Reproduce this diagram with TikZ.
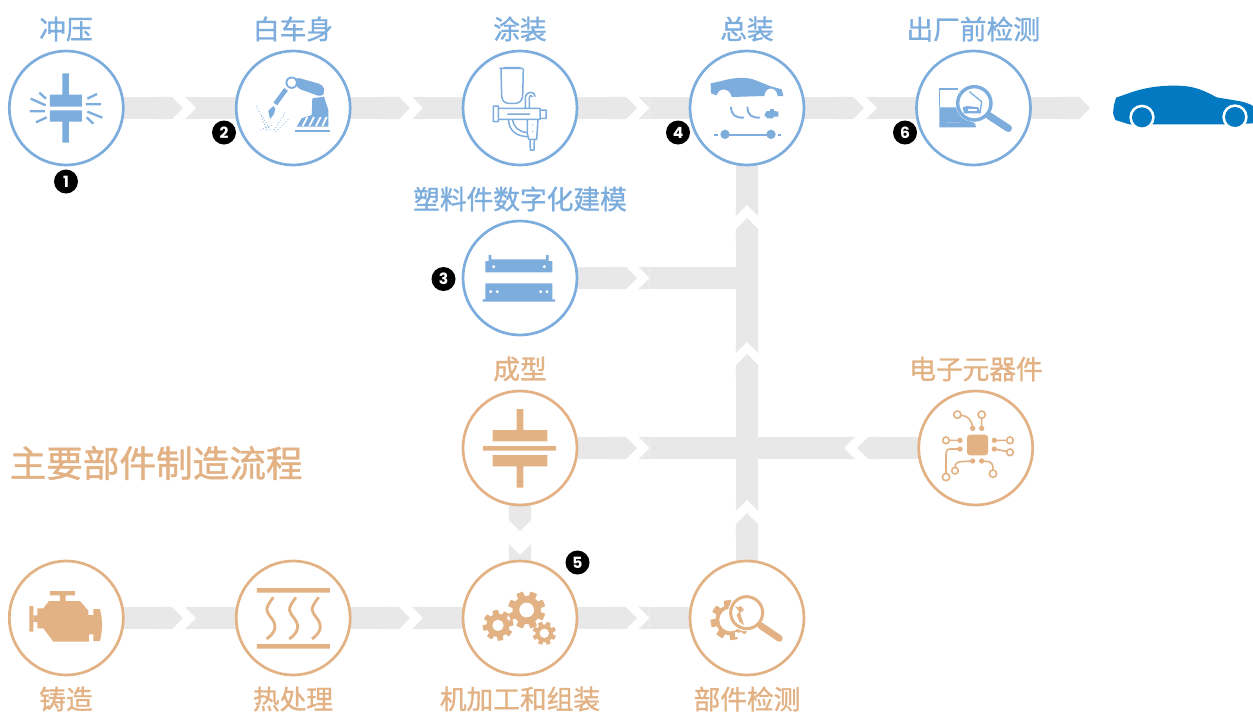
\documentclass[tikz,border=0pt]{standalone}
\usepackage{fontspec}
\setmainfont{Noto Sans CJK SC}[FakeBold=1.2]
\newfontfamily\badgefont{Poppins}
\usetikzlibrary{arrows.meta,backgrounds}
\definecolor{bl}{HTML}{7DADDD}
\definecolor{og}{HTML}{E2B285}
\definecolor{band}{HTML}{E8E8E8}
\definecolor{carblue}{HTML}{0279C1}
\pgfdeclarearrow{
  name=Notch,
  setup code={\pgfarrowssettipend{0pt}\pgfarrowssetlineend{-11pt}\pgfarrowssetbackend{-11.2pt}},
  drawing code={
    \pgfpathmoveto{\pgfqpoint{0pt}{11.2pt}}
    \pgfpathlineto{\pgfqpoint{-11.2pt}{0pt}}
    \pgfpathlineto{\pgfqpoint{0pt}{-11.2pt}}
    \pgfpathlineto{\pgfqpoint{-11.2pt}{-11.2pt}}
    \pgfpathlineto{\pgfqpoint{-11.2pt}{11.2pt}}
    \pgfpathclose
    \pgfusepathqfill
  }
}
\tikzset{
  stepb/.style={circle,draw=bl,line width=2.7pt,fill=white,minimum size=114pt,inner sep=0pt},
  stepo/.style={circle,draw=og,line width=2.7pt,fill=white,minimum size=114pt,inner sep=0pt},
  labb/.style={text=bl,font=\fontsize{26.7}{30}\selectfont,inner sep=0pt},
  labo/.style={text=og,font=\fontsize{26.7}{30}\selectfont,inner sep=0pt},
  badge/.style={circle,fill=black,text=white,minimum size=24pt,inner sep=0pt,font=\badgefont\bfseries\fontsize{15.5}{15.5}\selectfont},
  flowtip/.style={draw=band,line width=22.4pt,-{Triangle Cap[]}},
  flownotch/.style={draw=band,line width=22.4pt,{Notch[]}-},
  flowboth/.style={draw=band,line width=22.4pt,{Notch[]}-{Notch[]}},
  flowmid/.style={draw=band,line width=22.4pt,{Notch[]}-{Triangle Cap[]}},
  zoomed/.style={x=0.33333pt,y=-0.33333pt},
}
\newcommand\gearshape[6]{% x y R hole offset colour
  \fill[#6] (#1,#2) circle ({0.76*#3});
  \foreach \a in {0,45,...,315}
    \fill[#6,shift={(#1,#2)},rotate={\a+#5},rounded corners=0.6pt] ({-0.19*#3},0) rectangle ({0.19*#3},#3);
  \fill[white] (#1,#2) circle (#4);
}
\begin{document}
\begin{tikzpicture}[x=1pt,y=-1pt]
\useasboundingbox (0,0) rectangle (1253,713);
% step nodes
\node[stepb] (ya) at (66.3,108) {};
\node[stepb] (bai) at (293.2,108) {};
\node[stepb] (tu) at (520,108) {};
\node[stepb] (zong) at (747,108) {};
\node[stepb] (chu) at (973.5,108) {};
\node[stepb] (su) at (520,278) {};
\node[stepo] (cheng) at (520,448) {};
\node[stepo] (dian) at (975.7,448) {};
\node[stepo] (zhu) at (66.3,618) {};
\node[stepo] (re) at (293.2,618) {};
\node[stepo] (ji) at (520,618) {};
\node[stepo] (bu) at (747,618) {};
% labels
\node[labb] (l1) at (66,29) {冲压};
\node[labb] (l2) at (293,29) {白车身};
\node[labb] (l3) at (520,29) {涂装};
\node[labb] (l4) at (747,29) {总装};
\node[labb] (l5) at (973.3,29) {出厂前检测};
\node[labb] (l6) at (520,199) {塑料件数字化建模};
\node[labo] (l7) at (520,369) {成型};
\node[labo] (l8) at (976,369) {电子元器件};
\node[labo] (l9) at (66,699) {铸造};
\node[labo] (l10) at (293,699) {热处理};
\node[labo] (l11) at (520,699) {机加工和组装};
\node[labo] (l12) at (747,699) {部件检测};
\node[text=og,font=\fontsize{36.6}{40}\selectfont,inner sep=0pt,anchor=west] (title) at (9.5,463) {主要部件制造流程};
% badges
\node[badge] (b1) at (66,181.5) {1};
\node[badge] (b2) at (224,132.5) {2};
\node[badge] (b3) at (443.5,279) {3};
\node[badge] (b4) at (678,132.5) {4};
\node[badge] (b5) at (577.5,562.5) {5};
\node[badge] (b6) at (905,132.5) {6};
% connector ends
\coordinate (t1) at (183,108); \coordinate (n1) at (185,108);
\coordinate (t2) at (410,108); \coordinate (n2) at (412,108);
\coordinate (t3) at (637,108); \coordinate (n3) at (638.5,108);
\coordinate (t4) at (864,108); \coordinate (n4) at (866,108);
\coordinate (t5) at (1090,108);
\coordinate (t6) at (637,278); \coordinate (n6) at (638.5,278); \coordinate (j6) at (747,278);
\coordinate (t7) at (637,448); \coordinate (n7) at (638.5,448); \coordinate (n7r) at (855,448);
\coordinate (t8) at (857,448);
\coordinate (t9) at (520,531); \coordinate (n9) at (520,544);
\coordinate (t11) at (183,618); \coordinate (n11) at (185,618);
\coordinate (t12) at (410,618); \coordinate (n12) at (412,618);
\coordinate (t13) at (637,618); \coordinate (n13) at (638.5,618);
\coordinate (v1) at (747,513); \coordinate (v2) at (747,511);
\coordinate (v3) at (747,354); \coordinate (v4) at (747,353);
\coordinate (v5) at (747,218); \coordinate (v6) at (747,216);
\begin{scope}[on background layer]
\draw[flowtip] (ya.center) -- (t1);
\draw[flownotch] (n1) -- (bai.center);
\draw[flowtip] (bai.center) -- (t2);
\draw[flownotch] (n2) -- (tu.center);
\draw[flowtip] (tu.center) -- (t3);
\draw[flownotch] (n3) -- (zong.center);
\draw[flowtip] (zong.center) -- (t4);
\draw[flownotch] (n4) -- (chu.center);
\draw[flowtip] (chu.center) -- (t5);
\draw[flowtip] (su.center) -- (t6);
\draw[flownotch] (n6) -- (j6);
\draw[flowtip] (cheng.center) -- (t7);
\draw[flowboth] (n7) -- (n7r);
\draw[flowtip] (dian.center) -- (t8);
\draw[flowtip] (cheng.center) -- (t9);
\draw[flownotch] (n9) -- (ji.center);
\draw[flowtip] (zhu.center) -- (t11);
\draw[flownotch] (n11) -- (re.center);
\draw[flowtip] (re.center) -- (t12);
\draw[flownotch] (n12) -- (ji.center);
\draw[flowtip] (ji.center) -- (t13);
\draw[flownotch] (n13) -- (bu.center);
\draw[flowtip] (bu.center) -- (v1);
\draw[flowmid] (v2) -- (v3);
\draw[flowmid] (v4) -- (v5);
\draw[flownotch] (v6) -- (zong.center);
\end{scope}
% --- icons, top row (zoom coordinates)
\begin{scope}[zoomed]
% press
\fill[bl] (187,220) rectangle (207,284) (150,284) rectangle (246,320) (150,331) rectangle (246,365) (187,365) rectangle (207,428);
\draw[bl,line width=2.3pt] (92,296)--(137,316) (118,278)--(138,296) (90,334)--(135,334) (108,367)--(140,352)
 (262,296)--(291,282) (258,313)--(303,313) (262,335)--(307,353) (260,352)--(280,371);
% robot
\fill[bl] (885,390) rectangle (990,396);
\fill[bl] (937,295) -- (972,290) -- (985,330) -- (985,380) -- (890,380) -- (905,355) -- (935,345) -- cycle;
\draw[white,line width=1.8pt] (908,378)--(922,351) (928,378)--(942,351) (948,378)--(962,351) (967,378)--(980,351);
\fill[bl,rounded corners=4pt] (885,231) -- (968,254) -- (975,275) -- (965,291) -- (890,264) -- cycle;
\fill[bl] (875,248) circle (18.5);
\fill[white] (875,248) circle (13);
\draw[bl,line width=4.6pt] (858,268)--(826,312);
\fill[bl] (820,318)--(805,332)--(810,357)--(822,342)--(826,326)--cycle;
\draw[bl,line width=.8pt,dotted] (770,318)--(803,395) (785,345)--(812,392) (855,338)--(820,395) (865,358)--(828,395) (782,390)--(815,375);
\end{scope}
\begin{scope}[shift={(420,0)},zoomed]
% spray gun
\draw[bl,line width=1.5pt,line join=round]
  (238,205)--(310,205) (243,207)--(245,290)..controls (247,303) and (255,310) .. (265,310)--(288,310)..controls (298,310) and (306,300) .. (308,290)--(310,207)
  (250,203)--(302,203)
  (235,325)--(360,325)--(360,358)--(235,358)--cycle
  (220,318)--(235,318)--(235,365)--(220,365)--cycle
  (360,330)--(378,330)--(378,355)--(360,355)
  (262,342)--(330,342)
  (316,325)--(316,293)..controls (318,272) and (345,272) .. (346,290)
  (328,325)--(328,295)..controls (328,285) and (335,285) .. (338,290)
  (322,358)--(322,400)--(326,418)--(350,418)--(354,358)
  (330,418)--(331,450)--(342,450)--(343,418)
  (265,358)..controls (268,395) and (290,408) .. (322,410)
  (278,358)..controls (280,382) and (298,396) .. (322,398);
\fill[bl] (338,375) circle (2) (338,395) circle (2);
% car assembly
\fill[bl] (872,250)--(905,243)..controls (930,235) and (975,228) .. (1005,240)--(1050,258)--(1085,268)--(1090,288)--(1073,288)..controls (1070,258) and (1035,258) .. (1033,288)--(935,291)..controls (930,262) and (895,262) .. (890,286)--(873,280)--cycle;
\draw[bl,line width=1.9pt,line cap=round] (933,322)..controls (935,345) and (945,353) .. (970,353) (982,322)..controls (984,345) and (994,353) .. (1018,353);
\fill[bl] (1033,345)--(1040,333)--(1050,333)--(1050,327)--(1062,327)--(1062,333)--(1075,335)--(1075,350)--(1062,350)--(1058,355)--(1042,355)--cycle;
\draw[bl,line width=2pt] (883,406)--(893,406) (905,406)--(1065,406) (1073,406)--(1083,406);
\fill[bl] (915,403) circle (14) (1053,403) circle (14);
\end{scope}
\begin{scope}[shift={(840,0)},zoomed]
% door and magnifier
\draw[bl,line width=1.6pt] (298,267)--(355,267) (298,267)--(298,322);
\fill[bl] (298,322)--(358,322)--(372,352)--(405,370)--(298,366)--cycle;
\fill[bl] (298,366)--(405,370)--(408,382)--(298,382)--cycle;
\fill[white] (403,310) circle (56);
\draw[bl,line width=3.4pt] (403,310) circle (50);
\fill[bl] (368,322)--(382,318)--(415,322)--(422,340)--(372,340)--cycle;
\draw[bl,line width=1.3pt] (388,275)--(425,305)--(420,340);
\fill[white] (385,327) rectangle (410,334);
\draw[bl,line width=7.3pt,line cap=round] (447,347)--(505,385);
% final car
\fill[carblue] (828,293)--(880,275)..controls (920,262) and (960,257) .. (1000,257)..controls (1050,257) and (1075,262) .. (1130,292)--(1190,302)..controls (1215,306) and (1230,312) .. (1239,318)--(1239,370)--(1180,373)--(868,373)--(826,360)--(819,340)--(822,315)--cycle;
\fill[white] (906,352) circle (38) (1185,351) circle (38);
\fill[carblue] (906,352) circle (30) (1185,351) circle (30);
\fill[white] (860,374) rectangle (868,385);
\end{scope}
\begin{scope}[shift={(420,200)},zoomed]
% plastic parts
\fill[bl] (196,183)--(206,183)--(206,165)--(214,165)--(214,178)--(228,178)--(368,178)--(378,178)--(378,165)--(386,165)--(386,183)--(397,183)--(397,217)--(196,217)--cycle;
\fill[bl] (196,250) rectangle (397,298) (188,298) rectangle (405,305);
\fill[white] (221,200) circle (5) (373,200) circle (5) (212,275) circle (5) (232,275) circle (5) (362,275) circle (5) (381,275) circle (5);
% moulding
\fill[og] (290,627) rectangle (310,690) (218,690) rectangle (382,724) (189,738) rectangle (408,752) (218,765) rectangle (382,799) (290,799) rectangle (310,863);
\end{scope}
\begin{scope}[shift={(840,340)},zoomed]
% chip
\fill[og,rounded corners=3pt] (381,284) rectangle (444,346);
\fill[og] (398,265) circle (8) (425,265) circle (8) (360,301) circle (8) (360,327) circle (8) (398,363) circle (8) (425,363) circle (8) (463,301) circle (8) (463,327) circle (8);
\draw[og,line width=1.6pt] (352,224) circle (11) (425,224) circle (11) (318,301) circle (10) (318,411) circle (11) (345,392) circle (10) (459,401) circle (11) (510,301) circle (10) (510,337) circle (10);
\draw[og,line width=1.6pt] (398,265)..controls (396,240) and (385,228) .. (363,226)
 (425,265)--(425,235) (360,301)--(328,301)
 (360,327)--(330,327)..controls (320,327) and (318,335) .. (318,345)--(318,400)
 (398,363)--(362,365)..controls (350,366) and (345,372) .. (345,382)
 (425,363)--(448,365)..controls (456,367) and (459,375) .. (459,390)
 (463,301)--(500,301) (463,327)--(500,334);
\end{scope}
\begin{scope}[shift={(0,540)},zoomed]
% engine
\fill[og] (150,153) rectangle (225,166) (180,166) rectangle (197,183) (88,198) rectangle (100,275);
\fill[og] (100,226)--(112,226)--(112,205)--(130,205)--(147,183)--(240,183)--(265,212)--(265,225)--(280,225)--(280,207)--(300,207)..controls (308,240) and (308,270) .. (300,303)--(280,303)--(280,283)--(267,283)--(267,305)--(160,305)--(130,265)--(112,265)--(112,246)--(100,246)--cycle;
% heat
\fill[og] (771,144) rectangle (990,158) (771,312) rectangle (990,326);
\foreach \dx in {0,68,136}
  \draw[og,line width=2.8pt,shift={(\dx,0)}] (820,172)..controls (790,210) and (800,215) .. (815,235)..controls (835,262) and (822,280) .. (800,297);
\end{scope}
\begin{scope}[shift={(420,500)},zoomed]
% gears
\gearshape{320}{330}{56}{22}{22.5}{og}
\gearshape{234}{376}{46}{17}{10}{og}
\gearshape{373}{400}{35}{14}{22.5}{og}
% gear and magnifier
\gearshape{932}{360}{60}{34}{10}{og}
\fill[white] (980,338) circle (56);
\fill[white] (945,395) rectangle (955,412);
\draw[og,line width=3pt] (980,338) circle (48);
\draw[og,line width=6.8pt,line cap=round] (1022,377)--(1078,415);
\fill[og] (945,318)--(955,322)--(962,318)--(972,330)--(960,338)--(972,375)--(958,365)--(950,345)--(958,335)--cycle;
\end{scope}
\end{tikzpicture}
\end{document}
